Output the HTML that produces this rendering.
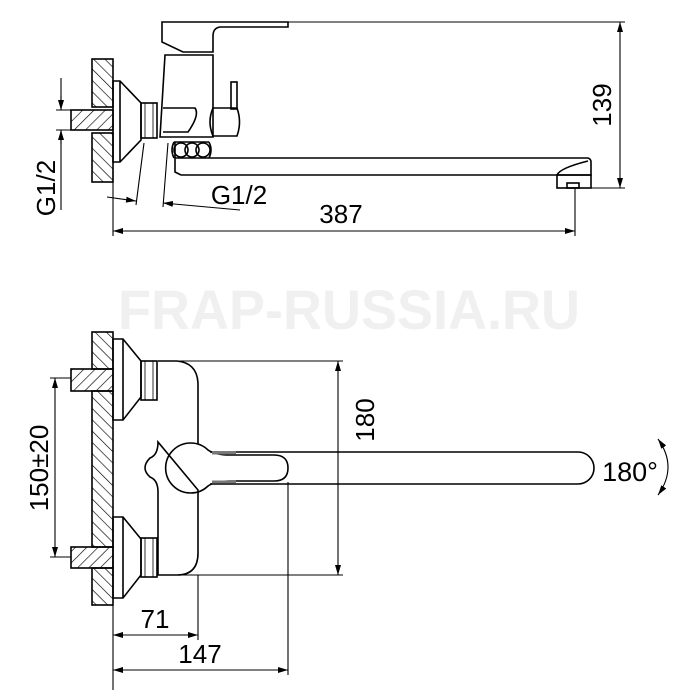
<!DOCTYPE html>
<html><head><meta charset="utf-8"><style>
html,body{margin:0;padding:0;background:#fff}
svg{display:block}
text{font-family:"Liberation Sans",sans-serif;fill:#000}
</style></head><body>
<svg width="700" height="700" viewBox="0 0 700 700" xmlns="http://www.w3.org/2000/svg">
<defs>
<pattern id="h" width="8" height="8" patternUnits="userSpaceOnUse" patternTransform="rotate(-45)">
<line x1="0" y1="0" x2="0" y2="8" stroke="#000" stroke-width="1.3"/></pattern>
<pattern id="h2" width="8" height="8" patternUnits="userSpaceOnUse" patternTransform="rotate(45)">
<line x1="0" y1="0" x2="0" y2="8" stroke="#000" stroke-width="1.3"/></pattern>
<marker id="a" viewBox="0 0 10 6" refX="10" refY="3" markerWidth="10" markerHeight="6" orient="auto-start-reverse" markerUnits="userSpaceOnUse"><path d="M0,0 L10,3 L0,6z" fill="#000"/></marker>
</defs>
<text x="349" y="329" font-size="56" font-weight="bold" text-anchor="middle" textLength="462" lengthAdjust="spacingAndGlyphs" style="fill:#f0f0f0">FRAP-RUSSIA.RU</text>
<g fill="none" stroke="#000" stroke-width="1.6">
<!-- TOP VIEW -->
<rect x="92" y="59" width="21" height="48" fill="url(#h)"/>
<rect x="92" y="133" width="21" height="49" fill="url(#h)"/>
<rect x="71" y="110" width="42" height="20" fill="url(#h2)"/>
<path d="M113,81 H120 L141,103 V140 L120,162 H113 Z M120,81 V162"/>
<rect x="141" y="103" width="16" height="35"/>
<path d="M145,103 v35 M153,103 v35" stroke-width="0.8"/>
<path d="M162,42 V22 H288 V27 H220 Q213,28 213,36 V52 H183 Z"/>
<path d="M165,55 H213 V137 H160 Z"/>
<path d="M163,108 H195 Q200,115 188,132 H163"/>
<rect x="231" y="82" width="6" height="27"/>
<path d="M213,108 H237 Q242,122 237,136 H213 Q207,122 213,108Z"/>
<path d="M174,142 H209 M174,142 Q170,150 174,158 M209,142 Q213,150 209,158"/>
<circle cx="181" cy="150" r="7"/><circle cx="192" cy="150" r="7"/><circle cx="203" cy="150" r="7"/>
<path d="M175,142 V172 L181,175 M175,158 H588 Q591,159 591,162 V175 H557 Q560,168 588,161 M181,175 H557"/>
<rect x="557" y="175" width="34" height="13"/>
<rect x="567" y="183" width="12" height="5"/>
<g stroke-width="1.1">
<path d="M288,22 H625 M591,188 H625"/>
<line x1="620" y1="22" x2="620" y2="188" marker-start="url(#a)" marker-end="url(#a)"/>
<path d="M113,170 V236 M575,188 V236"/>
<line x1="113" y1="231" x2="575" y2="231" marker-start="url(#a)" marker-end="url(#a)"/>
<path d="M61,78 V110 M61,130 V210 M56,110 H71 M56,130 H71"/>
<line x1="61" y1="96" x2="61" y2="110" marker-end="url(#a)"/>
<line x1="61" y1="144" x2="61" y2="130" marker-end="url(#a)"/>
<path d="M144,143 L136,205 M168,143 L163,207"/>
<line x1="107" y1="197" x2="136" y2="201" marker-end="url(#a)"/>
<line x1="240" y1="210" x2="163" y2="203" marker-end="url(#a)"/>
</g>
<!-- BOTTOM VIEW -->
<rect x="92" y="332" width="21" height="37" fill="url(#h)"/>
<rect x="92" y="391" width="21" height="156" fill="url(#h)"/>
<rect x="92" y="568" width="21" height="37" fill="url(#h)"/>
<rect x="71" y="369" width="42" height="22" fill="url(#h2)"/>
<rect x="71" y="547" width="42" height="21" fill="url(#h2)"/>
<path d="M113,339 H123 L141,361 V397 L123,420 H113 Z M123,339 V420"/>
<path d="M113,517 H123 L141,539 V575 L123,598 H113 Z M123,517 V598"/>
<rect x="141" y="361" width="16" height="39"/>
<rect x="141" y="538" width="16" height="39"/>
<path d="M145,361 v39 M153,361 v39 M145,538 v39 M153,538 v39" stroke-width="0.8"/>
<path d="M158,361 H177 Q198,363 198,385 V444 M198,490 V553 Q198,575 177,575 H158 V492 Q158,480 150,477 Q140,468 150,458 Q158,455 158,442 Z"/>
<path d="M208,450 A25,25 0 1 0 208,486 Q215,481 230,481 H274 Q288,481 288,468 Q288,455 274,455 H230 Q215,455 208,450 Z"/>
<path d="M210,452 H578 A16,16 0 0 1 578,484 H210"/>
<path d="M212,453 H236 M212,482 H236" stroke="#777" stroke-width="3"/>
<g stroke-width="1.1">
<path d="M177,361 H343 M177,575 H343"/>
<line x1="338" y1="361" x2="338" y2="575" marker-start="url(#a)" marker-end="url(#a)"/>
<path d="M50,378 H71 M50,557 H71"/>
<line x1="55" y1="378" x2="55" y2="557" marker-start="url(#a)" marker-end="url(#a)"/>
<path d="M113,605 V690 M198,575 V640 M288,482 V675"/>
<line x1="113" y1="635" x2="198" y2="635" marker-start="url(#a)" marker-end="url(#a)"/>
<line x1="113" y1="670" x2="288" y2="670" marker-start="url(#a)" marker-end="url(#a)"/>
<path d="M658,439 Q678,467 658,495" marker-start="url(#a)" marker-end="url(#a)"/>
</g>
</g>
<text x="341" y="223" font-size="26" text-anchor="middle">387</text>
<text x="239" y="204" font-size="26" text-anchor="middle">G1/2</text>
<text transform="translate(611,105) rotate(-90)" font-size="26" text-anchor="middle">139</text>
<text transform="translate(55,188) rotate(-90)" font-size="26" text-anchor="middle">G1/2</text>
<text transform="translate(374,420) rotate(-90)" font-size="26" text-anchor="middle">180</text>
<text transform="translate(48,468) rotate(-90)" font-size="26" text-anchor="middle">150±20</text>
<text x="630" y="481" font-size="27" text-anchor="middle">180°</text>
<text x="155" y="628" font-size="26" text-anchor="middle">71</text>
<text x="200" y="663" font-size="26" text-anchor="middle">147</text>
</svg>
</body></html>
